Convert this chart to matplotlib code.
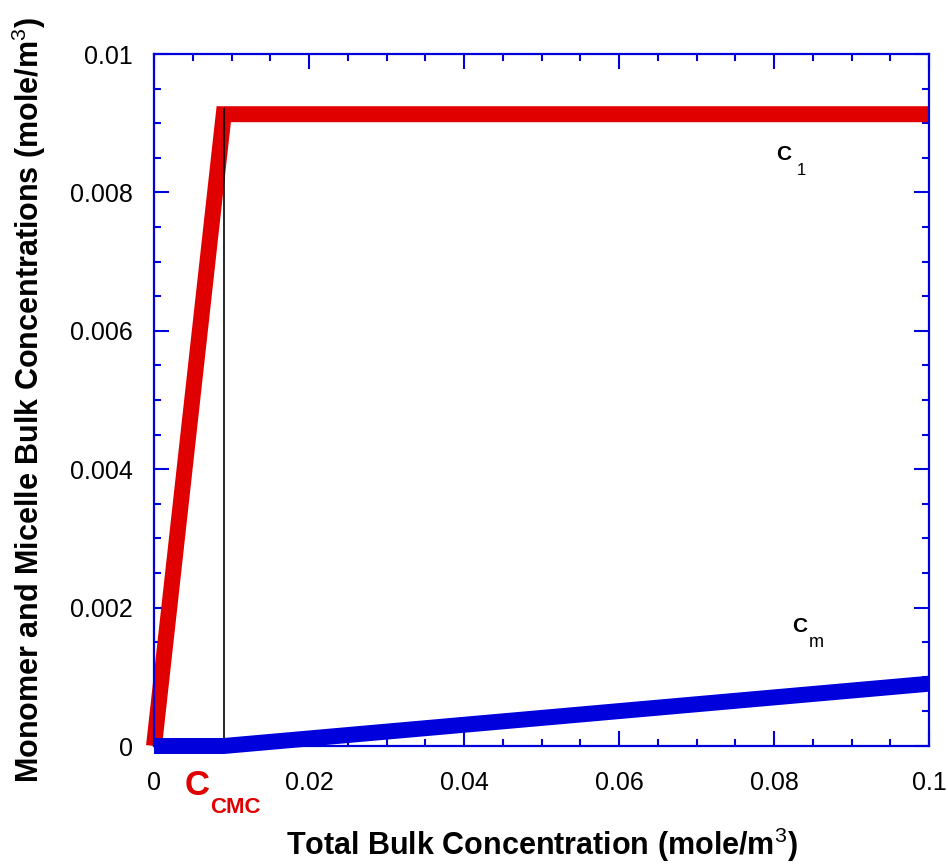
import numpy as np
import matplotlib
matplotlib.use("Agg")
import matplotlib.pyplot as plt
from matplotlib.ticker import FixedLocator, FixedFormatter, MultipleLocator

plt.rcParams['font.family'] = ['Liberation Sans', 'DejaVu Sans']
plt.rcParams['mathtext.fontset'] = 'custom'
plt.rcParams['mathtext.rm'] = 'Liberation Sans'
plt.rcParams['mathtext.bf'] = 'Liberation Sans:bold'

# total concentration vs monomer / micelle concentration
c_total = [0.0, 0.009, 0.1]
c_monomer = [0.0, 0.00913, 0.00913]
c_micelle = [0.0, 0.0, 0.0009]
c_cmc = 0.009
cmc_line_top = 0.00921

x_ticks = [0, 0.02, 0.04, 0.06, 0.08, 0.1]
x_tick_labels = ["0", "0.02", "0.04", "0.06", "0.08", "0.1"]
y_ticks = [0, 0.002, 0.004, 0.006, 0.008, 0.01]
y_tick_labels = ["0", "0.002", "0.004", "0.006", "0.008", "0.01"]

red = '#e00000'
blue = '#0000dd'

fig = plt.figure(figsize=(9.48, 8.67), dpi=100)
ax = fig.add_axes([154/948, 1-746/867, (929-154)/948, (746-54)/867])

ax.plot(c_total, c_monomer, color=red, lw=11.5, solid_joinstyle='miter',
        solid_capstyle='butt', clip_on=False, zorder=2)
ax.plot([c_cmc, c_cmc], [0, cmc_line_top], color='black', lw=1.2, zorder=3)
ax.plot(c_total, c_micelle, color=blue, lw=11.5, solid_joinstyle='miter',
        solid_capstyle='butt', clip_on=False, zorder=4)

ax.set_xlim(0, 0.1)
ax.set_ylim(0, 0.01)

ax.xaxis.set_major_locator(FixedLocator(x_ticks))
ax.xaxis.set_major_formatter(FixedFormatter(x_tick_labels))
ax.yaxis.set_major_locator(FixedLocator(y_ticks))
ax.yaxis.set_major_formatter(FixedFormatter(y_tick_labels))
ax.xaxis.set_minor_locator(MultipleLocator(0.005))
ax.yaxis.set_minor_locator(MultipleLocator(0.0005))

for s in ax.spines.values():
    s.set_color(blue)
    s.set_linewidth(1.6)

ax.tick_params(which='both', direction='in', top=True, right=True,
               color=blue, width=1.5, labelsize=18)
ax.tick_params(which='major', length=11)
ax.tick_params(which='minor', length=5)
ax.tick_params(axis='x', which='major', pad=18)
ax.tick_params(axis='y', which='major', pad=15)

ax.set_xlabel("Total Bulk Concentration (mole/m$^3$)", fontsize=22,
              fontweight='bold', labelpad=22)
ax.set_ylabel("Monomer and Micelle Bulk Concentrations (mole/m$^3$)",
              fontsize=22, fontweight='bold', labelpad=16)

# curve labels, letter and subscript placed separately
ax.text(0.0803, 0.00847, "C", fontsize=15, fontweight='bold', va='baseline')
ax.text(0.0830, 0.00825, "1", fontsize=12, va='baseline')
ax.text(0.0823, 0.00165, "C", fontsize=15, fontweight='bold', va='baseline')
ax.text(0.0845, 0.00143, "m", fontsize=13, va='baseline')
ax.text(0.0040, -0.00071, "C", fontsize=25, fontweight='bold', color=red,
        va='baseline')
ax.text(0.0072, -0.00097, "CMC", fontsize=16, fontweight='bold', color=red,
        va='baseline')

fig.savefig("out.png", dpi=100)
